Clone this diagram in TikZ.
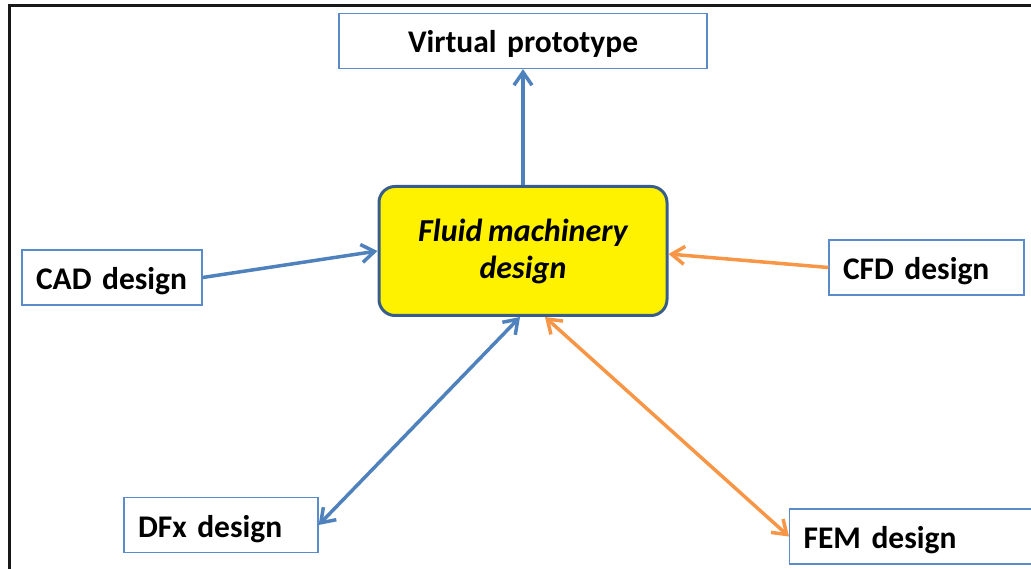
\documentclass[tikz,border=0pt]{standalone}
\usepackage{fontspec}
\setmainfont[WordSpace=0.8]{Carlito}
\usetikzlibrary{arrows.meta}
\definecolor{linkblue}{HTML}{4F81BD}
\definecolor{linkorange}{HTML}{F79646}
\definecolor{hubedge}{HTML}{385D8A}
\definecolor{boxedge}{HTML}{5B8BC9}
\begin{document}
\begin{tikzpicture}[x=1pt,y=-1pt,
  labelbox/.style={draw=boxedge, line width=1.3pt, fill=white,
    minimum height=55pt, inner xsep=14pt, inner ysep=0pt,
    text height=26pt, text depth=2pt,
    align=left, font=\fontsize{31.5}{36}\selectfont\bfseries},
  hub/.style={draw=hubedge, line width=3pt, fill=yellow, rounded corners=16pt,
    minimum width=288pt, minimum height=129pt, align=center,
    font=\fontsize{32}{37}\selectfont\bfseries\itshape},
  link/.style={line width=3.5pt, -{Straight Barb[length=13pt,width=18pt,line width=3.5pt]}},
  duplex/.style={line width=3.5pt, {Straight Barb[length=13pt,width=18pt,line width=3.5pt]}-{Straight Barb[length=13pt,width=18pt,line width=3.5pt]}}
]
\useasboundingbox (0,0) rectangle (1031,569);
\begin{scope}
\clip (0,0) rectangle (1031,569);
% outer frame (open at the right and bottom)
\draw[line width=3pt, color=black!90] (9.5,569) -- (9.5,5.5) -- (1031,5.5);

% nodes
\node[hub] (hub) at (523,251) {Fluid machinery\\design};
\node[labelbox, minimum width=368pt, align=center, inner xsep=0pt, text width=368pt] (vp) at (523,41) {Virtual prototype};
\node[labelbox, text width=152pt, text height=27pt] (cad) at (112,277.5) {\mbox{CAD design}};
\node[labelbox, text width=167pt] (cfd) at (926.5,267.5) {\mbox{CFD design}};
\node[labelbox, text width=166pt] (dfx) at (221,525) {\mbox{DFx design}};
\node[labelbox, text width=234pt, anchor=west] (fem) at (789,536.5) {\mbox{FEM design}};

% connectors
\draw[link, linkblue] (hub.north) -- (vp.south);
\draw[link, linkblue] (cad.east) -- (hub.west);
\draw[link, linkorange] (cfd.west) -- ([yshift=-3pt]hub.east);
\draw[duplex, linkblue] ([xshift=-3pt]hub.south) -- (dfx.east);
\draw[duplex, linkorange] ([xshift=22pt]hub.south) -- (fem.west);
\end{scope}
\end{tikzpicture}
\end{document}
